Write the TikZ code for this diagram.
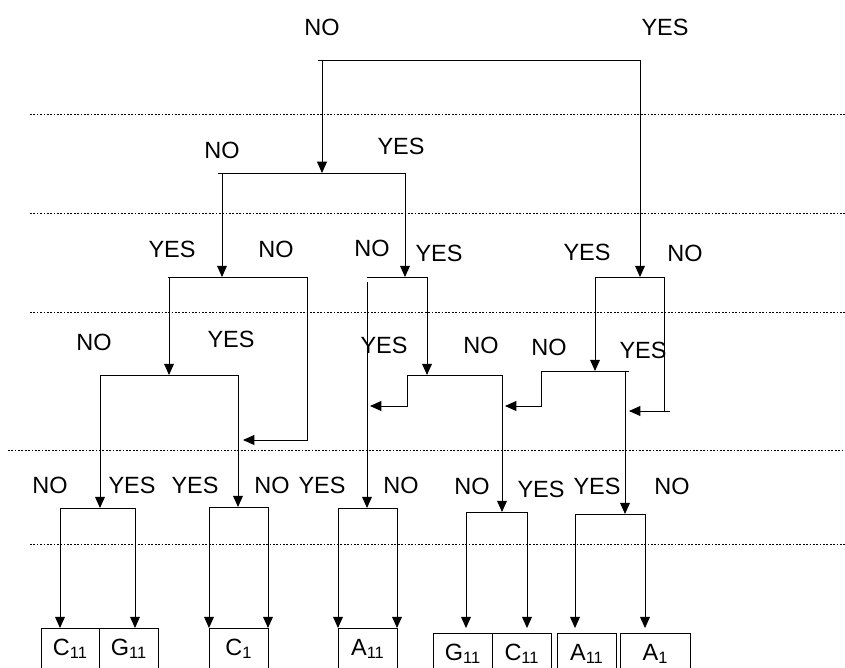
\documentclass[tikz,border=0pt]{standalone}
\usepackage{fontspec}
\setmainfont{Liberation Sans}
\usetikzlibrary{arrows.meta}

\begin{document}
\begin{tikzpicture}[x=0.025cm,y=-0.025cm,>={Triangle[length=8pt,width=7pt]},
    line width=0.7pt,
    ans/.style={font=\fontsize{16.7}{20}\selectfont,inner sep=0pt},
    leaf/.style={draw,line width=0.5pt,anchor=north west,inner sep=0pt,
      minimum width=1.475cm,minimum height=1.25cm,text height=12pt,text depth=9.2pt,
      font=\fontsize{16.7}{20}\selectfont},
    level/.style={line width=0.6pt,dash pattern=on 1.2pt off 1.2pt}]

  \useasboundingbox (0,0) rectangle (845,668);
  \clip (0,0) rectangle (845,668);

  % level separators
  \foreach \y/\x in {114/30,213/30,312/30,450/8,544/30}
    \draw[level] (\x,\y) -- (845,\y);

  % answers
  \node[ans] (no1)  at (322,27)  {NO};
  \node[ans] (yes1) at (665,27)  {YES};
  \node[ans] (no2)  at (222,150) {NO};
  \node[ans] (yes2) at (401,146) {YES};
  \node[ans] (yes3a) at (172,249) {YES};
  \node[ans] (no3a)  at (276,249) {NO};
  \node[ans] (no3b)  at (372,248) {NO};
  \node[ans] (yes3b) at (439,253) {YES};
  \node[ans] (yes3c) at (587,252) {YES};
  \node[ans] (no3c)  at (685,253) {NO};
  \node[ans] (no4a)  at (94,342)  {NO};
  \node[ans] (yes4a) at (231,339) {YES};
  \node[ans] (yes4b) at (384,345) {YES};
  \node[ans] (no4b)  at (481,345) {NO};
  \node[ans] (no4c)  at (549,347) {NO};
  \node[ans] (yes4c) at (643,350) {YES};
  \node[ans] (no5a)  at (50,485)  {NO};
  \node[ans] (yes5a) at (132,485) {YES};
  \node[ans] (yes5b) at (195,485) {YES};
  \node[ans] (no5b)  at (272,485) {NO};
  \node[ans] (yes5c) at (322,485) {YES};
  \node[ans] (no5c)  at (401,485) {NO};
  \node[ans] (no5d)  at (472,486) {NO};
  \node[ans] (yes5d) at (541,489) {YES};
  \node[ans] (yes5e) at (597,486) {YES};
  \node[ans] (no5e)  at (672,486) {NO};

  % leaves
  \node[leaf,minimum width=1.45cm] (lfC11a) at (41,628)  {C\textsubscript{11}};
  \node[leaf] (lfG11a) at (99,628)  {G\textsubscript{11}};
  \node[leaf] (lfC1)   at (209,628) {C\textsubscript{1}};
  \node[leaf] (lfA11a) at (338,628) {A\textsubscript{11}};
  \node[leaf] (lfG11b) at (433,633) {G\textsubscript{11}};
  \node[leaf] (lfC11b) at (492,633) {C\textsubscript{11}};
  \node[leaf] (lfA11b) at (557,633) {A\textsubscript{11}};
  \node[leaf,minimum width=1.75cm] (lfA1) at (620,633) {A\textsubscript{1}};

  % junctions
  \coordinate (r0) at (318,60);  \coordinate (r) at (322,60);  \coordinate (r1) at (640,60);
  \coordinate (a0) at (218,173); \coordinate (a) at (322,173); \coordinate (a1) at (405,173);
  \coordinate (aL) at (222,173);
  \coordinate (b0) at (168,277); \coordinate (b) at (222,277); \coordinate (b1) at (307,277);
  \coordinate (bL) at (169,277); \coordinate (bc) at (307,440); \coordinate (bt) at (243,440);
  \coordinate (c0) at (367,277); \coordinate (c) at (405,277); \coordinate (c1) at (427,277);
  \coordinate (cL) at (367,282);
  \coordinate (e0) at (595,277); \coordinate (e) at (640,277); \coordinate (e1) at (664,277);
  \coordinate (ec) at (664,411); \coordinate (ex) at (670,411); \coordinate (et) at (629,411);
  \coordinate (d0) at (100,375); \coordinate (d) at (169,375); \coordinate (d1) at (238,375);
  \coordinate (f0) at (407,375); \coordinate (f) at (427,375); \coordinate (f1) at (502,375);
  \coordinate (fc) at (407,406); \coordinate (ft) at (370,406);
  \coordinate (g0) at (541,371); \coordinate (g) at (595,371); \coordinate (g1) at (629,371);
  \coordinate (gL) at (625,371); \coordinate (gc) at (541,406); \coordinate (gt) at (505,406);
  \coordinate (h0) at (60,508);  \coordinate (h) at (100,508); \coordinate (h1) at (135,508);
  \coordinate (i0) at (209,507); \coordinate (i) at (238,507); \coordinate (i1) at (268,507);
  \coordinate (j0) at (338,508); \coordinate (j) at (367,508); \coordinate (j1) at (397,508);
  \coordinate (k0) at (466,512); \coordinate (k) at (502,512); \coordinate (k1) at (527,512);
  \coordinate (l0) at (575,514); \coordinate (l) at (625,514); \coordinate (l1) at (645,514);

  % bars
  \foreach \n in {r,a,b,c,e,d,f,g,h,i,j,k,l}
    \draw (\n0) -- (\n1);

  % branches
  \draw[->] (r) -- (a);
  \draw[->] (r1) -- (e);
  \draw[->] (aL) -- (b);
  \draw[->] (a1) -- (c);
  \draw[->] (bL) -- (d);
  \draw[->] (b1) -- (bc) -- (bt);
  \draw[->] (cL) -- (j);
  \draw[->] (c1) -- (f);
  \draw[->] (e0) -- (g);
  \draw (e1) -- (ec);
  \draw[->] (ex) -- (et);
  \draw[->] (d0) -- (h);
  \draw[->] (d1) -- (i);
  \draw[->] (f0) -- (fc) -- (ft);
  \draw[->] (f1) -- (k);
  \draw[->] (g0) -- (gc) -- (gt);
  \draw[->] (gL) -- (l);

  % to the leaves
  \path[->] (h0) edge (h0 |- lfC11a.north)
            (h1) edge (h1 |- lfG11a.north)
            (i0) edge (i0 |- lfC1.north)
            (i1) edge (i1 |- lfC1.north)
            (j0) edge (j0 |- lfA11a.north)
            (j1) edge (j1 |- lfA11a.north);
  \path[->,shorten >=3.5pt] (k0) edge (k0 |- lfG11b.north)
            (k1) edge (k1 |- lfC11b.north)
            (l0) edge (l0 |- lfA11b.north)
            (l1) edge (l1 |- lfA1.north);
\end{tikzpicture}
\end{document}
